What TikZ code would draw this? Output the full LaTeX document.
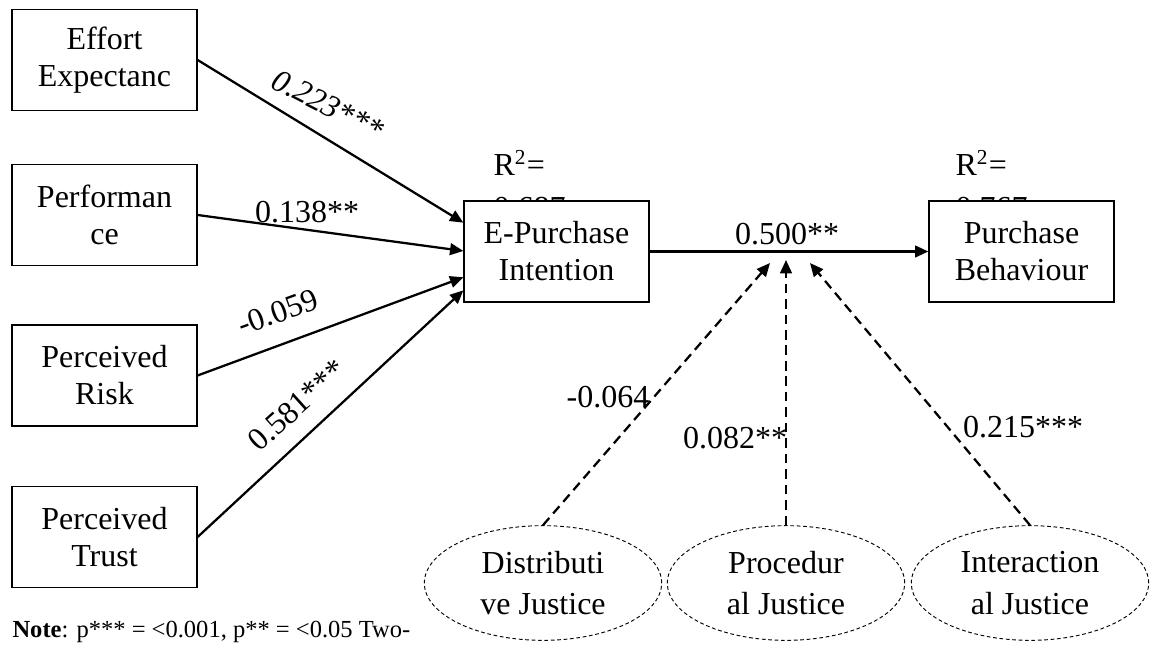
\documentclass[tikz,border=0pt]{standalone}
\usepackage{fontspec}
\setmainfont{Liberation Serif}
\usetikzlibrary{arrows.meta, positioning, shapes.geometric, calc}

\begin{document}
\begin{tikzpicture}[x=0.375pt,y=-0.375pt,
  box/.style={draw,fill=white,line width=0.45pt,minimum width=69.4pt,minimum height=37.9pt,inner sep=0pt,align=center,font=\fontsize{12}{13.9}\selectfont},
  latent/.style={draw,ellipse,dash pattern=on 1.4pt off 1pt,line width=0.35pt,minimum width=89pt,minimum height=43pt,inner sep=0pt,align=center,font=\fontsize{12}{15.5}\selectfont},
  effect/.style={line width=0.85pt,-{Triangle[length=5pt,width=4.4pt]}},
  modline/.style={effect,dash pattern=on 3.6pt off 2.2pt},
  coef/.style={inner sep=0pt,font=\fontsize{12}{14}\selectfont}]
\useasboundingbox (0,0) rectangle (1158,648);

% R^2 values (partly hidden behind the boxes)
\node[coef,anchor=base west] (r2a) at (493,176) {R\textsuperscript{2}=};
\node[coef,anchor=base west] (r2av) at (493,219) {0.687};
\node[coef,anchor=base west] (r2b) at (955,176) {R\textsuperscript{2}=};
\node[coef,anchor=base west] (r2bv) at (955,219) {0.767};

% predictors
\node[box] (ee) at (104.5,60) {Effort\\Expectanc};
\node[box] (pe) at (104.5,215) {Performan\\ce};
\node[box] (pr) at (104.5,375.5) {Perceived\\Risk};
\node[box] (pt) at (104.5,537) {Perceived\\Trust};

% outcomes
\node[box] (epi) at (556.5,251.5) {E-Purchase\\Intention};
\node[box] (pb) at (1021.5,251.5) {Purchase\\Behaviour};

% moderators
\node[latent] (dj) at (543,583) {Distributi\\ve Justice};
\node[latent] (pj) at (786,583) {Procedur\\al Justice};
\node[latent] (ij) at (1030,583) {Interaction\\al Justice};

% paths
\draw[effect] (ee.east) -- ($(epi.north west)!0.218!(epi.south west)$);
\draw[effect] (pe.east) -- ($(epi.north west)!0.495!(epi.south west)$);
\draw[effect] (pr.east) -- ($(epi.north west)!0.752!(epi.south west)$);
\draw[effect] (pt.east) -- ($(epi.north west)!0.88!(epi.south west)$);
\draw[effect] (epi.east) -- (pb.west);

\coordinate (tipa) at (770,263);
\coordinate (tipb) at (786,260);
\coordinate (tipc) at (810,263);
\draw[modline] (dj.north) -- (tipa);
\draw[modline] (pj.north) -- (tipb);
\draw[modline] (ij.north) -- (tipc);

% coefficients
\node[coef,rotate=-27] (c1) at (328,105) {\textit{0.223***}};
\node[coef] (c2) at (307,212) {0.138**};
\node[coef,rotate=20] (c3) at (278,312) {-0.059};
\node[coef,rotate=42] (c4) at (297,405) {0.581***};
\node[coef] (c5) at (787,234) {0.500**};
\node[coef] (c6) at (608,397) {-0.064};
\node[coef] (c7) at (735,438) {0.082**};
\node[coef] (c8) at (1023,427) {0.215***};

\node[anchor=base west,inner sep=0pt,font=\fontsize{9.2}{11}\selectfont] (note) at (12,637) {\textbf{Note}: p*** = <0.001, p** = <0.05 Two-};
\end{tikzpicture}
\end{document}
